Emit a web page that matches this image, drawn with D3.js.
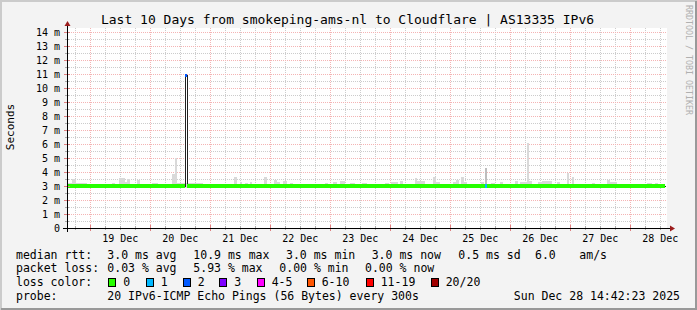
<!DOCTYPE html>
<html>
<head>
<meta charset="utf-8">
<script src="https://cdn.jsdelivr.net/npm/d3@7"></script>
<style>
body { margin: 0; background: #f3f3f3; }
svg { display: block; font-family: "DejaVu Sans Mono", monospace; }
</style>
</head>
<body>
<svg id="chart" width="697" height="310"></svg>
<script>
// time window (last 10 days)
const START = Date.UTC(2025, 11, 18, 14, 42, 23);
const END = Date.UTC(2025, 11, 28, 14, 42, 23);
const DATA_END_HOUR = 239.2;

// smoke: step starts (hours after START) and top of the smoke in ms
const smokeHours = [0, 2, 3.6, 8, 18, 19.2, 20.8, 23.2, 24, 25.2, 28, 29.2, 34, 36.4, 42, 43.2, 44,
  52, 54.4, 66.8, 68, 69.2, 70, 71.2, 72.4, 73.2, 74, 78.8, 80, 82.8, 84, 85.2, 86.4, 88, 89.2, 90.4,
  103.2, 104.4, 106.4, 108, 109.2, 111.2, 113.2, 115.2, 118, 120, 127.2, 128.8, 129.6, 132.4, 133.2,
  134.4, 139.2, 140, 143.2, 146.4, 147.6, 149.2, 154.4, 155.6, 156.8, 157.6, 158.8, 160, 165.6, 166.8,
  167.2, 168, 169.6, 171.2, 173.2, 174.4, 179.2, 180.4, 181.2, 184, 184.8, 186, 188.4, 190, 194, 196,
  197.2, 200, 200.8, 202, 202.8, 210, 211.2, 216, 217.2, 220, 232, 234, 235.2, 236.4];
const smokeTops = [3.2, 3.5, 3.25, 3.1, 3.25, 3.1, 3.55, 3.3, 3.5, 3.15, 3.4, 3.1, 3.25, 3.1, 3.85, 5.0, 3.2,
  3.2, 3.15, 3.65, 3.15, 3.3, 3.15, 3.25, 3.15, 3.3, 3.15, 3.65, 3.15, 3.4, 3.3, 3.15, 3.35, 3.15, 3.2, 3.15,
  3.25, 3.15, 3.3, 3.15, 3.35, 3.15, 3.2, 3.15, 3.25, 3.15, 3.25, 3.15, 3.3, 3.15, 3.35,
  3.15, 3.55, 3.35, 3.15, 3.65, 3.3, 3.15, 3.3, 3.4, 3.15, 3.65, 3.3, 3.15, 3.3, 3.15,
  4.3, 3.15, 3.25, 3.15, 3.3, 3.15, 3.35, 3.15, 3.3, 6.1, 3.35, 3.15, 3.3, 3.35, 3.15, 3.3,
  3.15, 3.9, 3.15, 3.65, 3.15, 3.25, 3.15, 3.4, 3.3, 3.15, 3.25, 3.15, 3.2, 3.15];
const SMOKE_LOW = 2.88;

// median rtt (ms) and lost pings per step
const medianHours = [0, 47, 47.8, 167.2, 168];
const medianValues = [3.0, 10.9, 3.0, 3.0, 3.0];
const lossValues = [0, 2, 0, 1, 0];

// loss colour legend
const lossLabels = ["0", "1", "2", "3", "4-5", "6-10", "11-19", "20/20"];
const lossColors = ["#26ff00", "#00b8ff", "#0059ff", "#7e00ff", "#ff00ff", "#ff5500", "#ff0000", "#a10000"];
const lossBuckets = [0, 1, 2, 3, 5, 10, 19, 20];

// legend texts
const rttStats = ["3.0 ms avg", "10.9 ms max", "3.0 ms min", "3.0 ms now", "0.5 ms sd", "6.0", "am/s"];
const lossStats = ["0.03 % avg", "5.93 % max", "0.00 % min", "0.00 % now"];
const probeText = "20 IPv6-ICMP Echo Pings (56 Bytes) every 300s";
const stampText = "Sun Dec 28 14:42:23 2025";
const titleText = "Last 10 Days from smokeping-ams-nl to Cloudflare | AS13335 IPv6";

// layout
const W = 697, H = 310;
const plot = { left: 67, right: 667, top: 28, bottom: 228 };
const rttX = [107.3, 193.3, 286, 371.7, 458.3, 535, 579.3];
const lossX = [107.3, 193.3, 279.3, 365];
const swatchX = [108.3, 145.7, 182.7, 219.3, 256.7, 306.7, 365.7, 430.7];
const rowY = [258.5, 272.4, 286.3, 300.2];

const svg = d3.select("#chart");

const hourDate = h => new Date(START + h * 3600e3);
const x = d3.scaleUtc().domain([new Date(START), new Date(END)]).range([plot.left, plot.right]);
const y = d3.scaleLinear().domain([0, 14]).range([228, 32]);

// background + 3d frame
svg.append("rect").attr("width", W).attr("height", H).attr("fill", "#f3f3f3");
svg.append("path").attr("d", `M1,${H} V1 H${W}`).attr("stroke", "#cbcbcb").attr("stroke-width", 2).attr("fill", "none");
svg.append("path").attr("d", `M1,${H - 1} H${W - 1} V1`).attr("stroke", "#999").attr("stroke-width", 2).attr("fill", "none");

// canvas
svg.append("rect")
  .attr("x", plot.left).attr("y", plot.top)
  .attr("width", plot.right - plot.left).attr("height", plot.bottom - plot.top)
  .attr("fill", "#fff");

const grid = svg.append("g").attr("shape-rendering", "crispEdges").attr("stroke-dasharray", "1,1");

// vertical grid: minor every 6h, major at midnight
const minorTimes = d3.utcHour.every(6).range(new Date(START), new Date(END));
minorTimes.forEach(t => {
  const major = t.getUTCHours() === 0;
  const px = Math.round(x(t)) + 0.5;
  grid.append("line")
    .attr("x1", px).attr("x2", px).attr("y1", plot.top).attr("y2", plot.bottom)
    .attr("stroke", major ? "#f4b4b4" : "#cccccc");
});

// horizontal grid: minor every 0.5 ms, major every 1 ms
d3.range(0.5, 14.3, 0.5).forEach(v => {
  const major = Number.isInteger(v);
  const py = Math.round(y(v)) + 0.5;
  grid.append("line")
    .attr("x1", plot.left).attr("x2", plot.right).attr("y1", py).attr("y2", py)
    .attr("stroke", major ? "#f4b4b4" : "#cccccc");
});

// smoke
const smoke = svg.append("g").attr("shape-rendering", "crispEdges");
smokeHours.forEach((h, i) => {
  const h1 = i + 1 < smokeHours.length ? smokeHours[i + 1] : DATA_END_HOUR;
  const x0 = x(hourDate(h)), x1 = x(hourDate(h1));
  smoke.append("rect")
    .attr("x", x0).attr("width", x1 - x0)
    .attr("y", y(smokeTops[i])).attr("height", y(SMOKE_LOW) - y(smokeTops[i]))
    .attr("fill", smokeTops[i] > 4 && smokeTops[i] < 5 ? "#bdbdbd" : "#d9d9d9");
});

// median line (black), stepped
const medianPts = medianHours.map((h, i) => [hourDate(h), medianValues[i]]);
medianPts.push([hourDate(DATA_END_HOUR), medianValues[medianValues.length - 1]]);
svg.append("path")
  .datum(medianPts)
  .attr("fill", "none")
  .attr("stroke", "#202020")
  .attr("stroke-width", 1)
  .attr("shape-rendering", "crispEdges")
  .attr("d", d3.line().curve(d3.curveStepAfter).x(d => Math.round(x(d[0])) + 0.5).y(d => Math.round(y(d[1])) + 0.5));

// loss coloured band around the median
const lossColor = n => lossColors[lossBuckets.findIndex(b => n <= b)];
const band = svg.append("g").attr("shape-rendering", "crispEdges");
medianHours.forEach((h, i) => {
  const h1 = i + 1 < medianHours.length ? medianHours[i + 1] : DATA_END_HOUR;
  const x0 = x(hourDate(h)), x1 = x(hourDate(h1));
  band.append("rect")
    .attr("x", x0).attr("width", x1 - x0)
    .attr("y", y(medianValues[i]) - 1.7).attr("height", 3.4)
    .attr("fill", lossColor(lossValues[i]));
});

// axis ticks
const ticks = svg.append("g").attr("shape-rendering", "crispEdges");
d3.range(0.5, 14.3, 0.5).forEach(v => {
  const major = Number.isInteger(v);
  const py = Math.round(y(v)) + 0.5;
  ticks.append("line")
    .attr("x1", plot.left - (major ? 3 : 2)).attr("x2", plot.left + (major ? 3 : 2))
    .attr("y1", py).attr("y2", py)
    .attr("stroke", major ? "#e08080" : "#aaaaaa");
});
minorTimes.forEach(t => {
  const major = t.getUTCHours() === 0;
  const px = Math.round(x(t)) + 0.5;
  ticks.append("line")
    .attr("x1", px).attr("x2", px)
    .attr("y1", plot.bottom - (major ? 3 : 2)).attr("y2", plot.bottom + (major ? 3 : 2))
    .attr("stroke", major ? "#e08080" : "#aaaaaa");
});

// axes
svg.append("line").attr("x1", plot.left - 4).attr("x2", plot.right + 4)
  .attr("y1", plot.bottom + 0.5).attr("y2", plot.bottom + 0.5).attr("stroke", "#000").attr("shape-rendering", "crispEdges");
svg.append("line").attr("x1", plot.left + 0.5).attr("x2", plot.left + 0.5)
  .attr("y1", plot.bottom + 4).attr("y2", plot.top - 3).attr("stroke", "#000").attr("shape-rendering", "crispEdges");
svg.append("path").attr("fill", "#9b1c1c")
  .attr("d", `M${plot.right + 3},${plot.bottom - 2.5} L${plot.right + 8},${plot.bottom + 0.5} L${plot.right + 3},${plot.bottom + 3.5} Z`);
svg.append("path").attr("fill", "#9b1c1c")
  .attr("d", `M${plot.left - 2.5},${plot.top - 2} L${plot.left + 0.5},${plot.top - 7} L${plot.left + 3.5},${plot.top - 2} Z`);

// y labels
d3.range(0, 15).forEach(v => {
  svg.append("text")
    .attr("x", 60).attr("y", y(v)).attr("dy", "0.35em")
    .attr("text-anchor", "end").attr("font-size", 10).attr("fill", "#000")
    .text(v === 0 ? "0" : v + " m");
});

// x labels at noon
const fmt = d3.utcFormat("%d %b");
d3.utcDay.range(new Date(START), new Date(END)).forEach(d => {
  const noon = d3.utcHour.offset(d, 12);
  if (noon > new Date(END)) return;
  svg.append("text")
    .attr("x", x(noon)).attr("y", 242)
    .attr("text-anchor", "middle").attr("font-size", 10).attr("fill", "#000")
    .text(fmt(noon));
});

// titles
svg.append("text").attr("x", 347.5).attr("y", 23.5).attr("text-anchor", "middle")
  .attr("font-size", 13).attr("fill", "#000").text(titleText);
svg.append("text").attr("transform", "translate(14,127) rotate(-90)").attr("text-anchor", "middle")
  .attr("font-size", 11).attr("fill", "#000").text("Seconds");
svg.append("text").attr("transform", "translate(686,5) rotate(90)").attr("text-anchor", "start")
  .attr("font-size", 8.3).attr("fill", "#b0b0b0").text("RRDTOOL / TOBI OETIKER");

// legend
const leg = svg.append("g").attr("font-size", 11.5).attr("fill", "#000");
leg.append("text").attr("x", 16).attr("y", rowY[0]).text("median rtt:");
rttStats.forEach((s, i) => leg.append("text").attr("x", rttX[i]).attr("y", rowY[0]).text(s));
leg.append("text").attr("x", 16).attr("y", rowY[1]).text("packet loss:");
lossStats.forEach((s, i) => leg.append("text").attr("x", lossX[i]).attr("y", rowY[1]).text(s));
leg.append("text").attr("x", 16).attr("y", rowY[2]).text("loss color:");
lossLabels.forEach((s, i) => {
  leg.append("rect")
    .attr("x", Math.round(swatchX[i]) + 0.5).attr("y", 278.5).attr("width", 7).attr("height", 8)
    .attr("fill", lossColors[i]).attr("stroke", "#000").attr("stroke-width", 1)
    .attr("shape-rendering", "crispEdges");
  leg.append("text").attr("x", swatchX[i] + 15).attr("y", rowY[2]).text(s);
});
leg.append("text").attr("x", 16).attr("y", rowY[3]).text("probe:");
leg.append("text").attr("x", 107.3).attr("y", rowY[3]).text(probeText);
leg.append("text").attr("x", 680).attr("y", rowY[3]).attr("text-anchor", "end").text(stampText);
</script>
</body>
</html>
